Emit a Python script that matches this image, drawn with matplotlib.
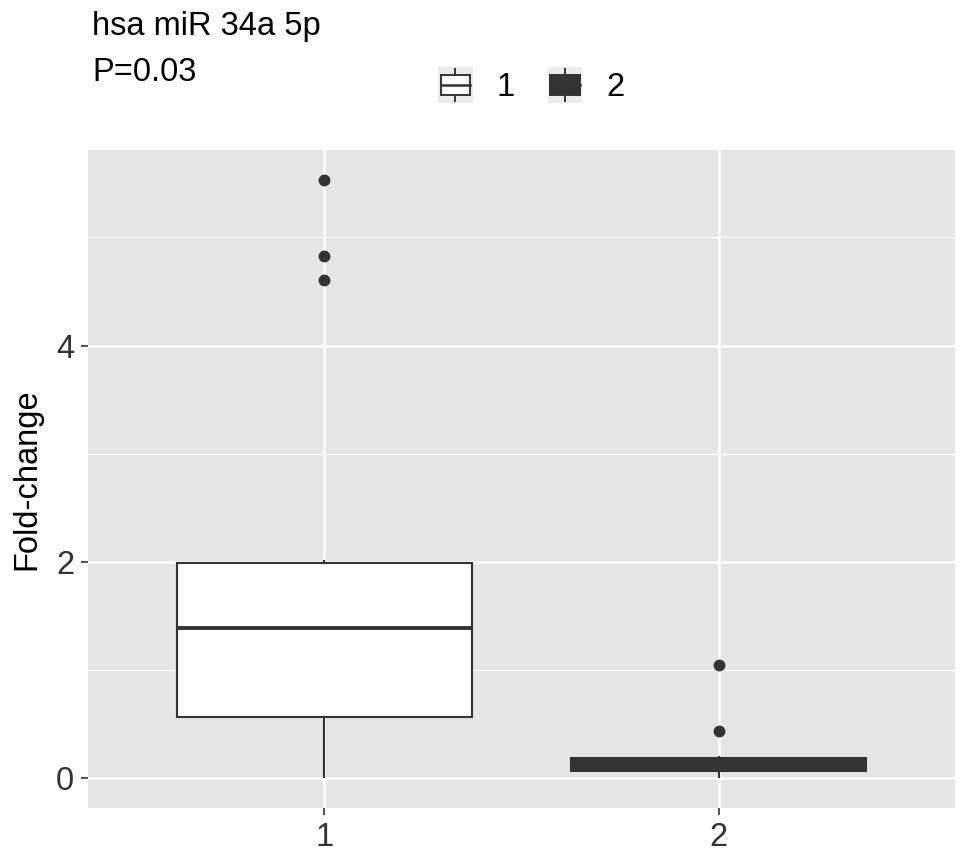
import matplotlib
matplotlib.use("Agg")
import matplotlib.pyplot as plt
from matplotlib.legend_handler import HandlerBase
from matplotlib.patches import Rectangle
from matplotlib.lines import Line2D

plt.rcParams['font.family'] = ['Liberation Sans', 'DejaVu Sans']

# Box statistics
groups = ['1', '2']
q1 = [0.56, 0.06]
med = [1.39, 0.12]
q3 = [1.99, 0.185]
whislo = [0.01, 0.01]
whishi = [2.01, 0.19]
outliers = [[5.53, 4.83, 4.61], [1.04, 0.43]]
fills = ['#ffffff', '#333333']

title = "hsa miR 34a 5p"
subtitle = "P=0.03"
ylabel = "Fold-change"

FS = 23.5


class BoxKey(HandlerBase):
    """ Draws a ggplot-style boxplot legend key. """

    def __init__(self, face):
        super().__init__()
        self.face = face

    def create_artists(self, legend, orig_handle, xdescent, ydescent,
                       width, height, fontsize, trans):
        x0, y0 = -xdescent, -ydescent
        bg = Rectangle((x0, y0 - 5.5), width, height + 11,
                       facecolor='#ebebeb', edgecolor='none', transform=trans)
        cx = x0 + width / 2
        bw = width * 0.86
        box = Rectangle((cx - bw / 2, y0), bw, height,
                        facecolor=self.face, edgecolor='#333333', lw=1.4,
                        transform=trans)
        mid = Line2D([cx - bw / 2, cx + bw / 2], [y0 + height / 2] * 2,
                     color='#333333', lw=1.8, transform=trans)
        top = Line2D([cx, cx], [y0 + height, y0 + height + 4],
                     color='#333333', lw=1.4, transform=trans)
        bot = Line2D([cx, cx], [y0, y0 - 4],
                     color='#333333', lw=1.4, transform=trans)
        return [bg, box, mid, top, bot]


fig = plt.figure(figsize=(9.69, 8.6), dpi=100)
ax = fig.add_axes([0.0908, 0.0605, 0.8947, 0.7651])
ax.set_facecolor('#e5e5e5')

stats = []
for i, g in enumerate(groups):
    stats.append(dict(label=g, q1=q1[i], med=med[i], q3=q3[i],
                      whislo=whislo[i], whishi=whishi[i], fliers=outliers[i]))

bp = ax.bxp(stats, positions=[1, 2], widths=0.75, patch_artist=True,
            showcaps=False,
            boxprops=dict(edgecolor='#333333', linewidth=1.5),
            medianprops=dict(color='#333333', linewidth=2.8),
            whiskerprops=dict(color='#333333', linewidth=1.5),
            flierprops=dict(marker='o', markerfacecolor='#333333',
                            markeredgecolor='#333333', markersize=7.5))
for patch, c in zip(bp['boxes'], fills):
    patch.set_facecolor(c)
    patch.set_zorder(3)
for ln in bp['medians'] + bp['whiskers'] + bp['fliers']:
    ln.set_zorder(4)

ax.set_xlim(0.4, 2.6)
ax.set_ylim(-0.28, 5.81)
ax.set_xticks([1, 2])
ax.set_xticklabels(groups)
ax.set_yticks([0, 2, 4])
ax.set_yticks([1, 3, 5], minor=True)
ax.grid(True, which='major', color='white', linewidth=1.8)
ax.grid(True, which='minor', axis='y', color='white', linewidth=0.9)
ax.set_axisbelow(True)
for s in ax.spines.values():
    s.set_visible(False)
ax.tick_params(axis='both', which='major', length=5, width=1.2,
               color='#333333', labelsize=FS, labelcolor='#333333', pad=5)
ax.tick_params(axis='y', which='minor', length=0)
ax.set_ylabel(ylabel, fontsize=FS, color='black', labelpad=10)

fig.text(0.095, 0.969, title, fontsize=FS, va='center', ha='left')
fig.text(0.095, 0.916, subtitle, fontsize=FS, va='center', ha='left')

handles = [Rectangle((0, 0), 1, 1), Rectangle((0, 0), 1, 1)]
fig.legend(handles, groups, loc='center', bbox_to_anchor=(0.5485, 0.8977),
           ncol=2, frameon=False, fontsize=FS, handlelength=1.05,
           handleheight=0.58, handletextpad=0.75, columnspacing=1.0,
           handler_map={handles[0]: BoxKey(fills[0]),
                        handles[1]: BoxKey(fills[1])})

fig.savefig('out.png', dpi=100)
